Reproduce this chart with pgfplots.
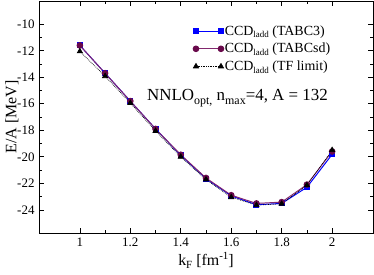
\documentclass[border=0pt]{standalone}
\usepackage{fontspec}
\setmainfont{Liberation Serif}
\usepackage{pgfplots}
\pgfplotsset{compat=1.18}
\definecolor{maroonc}{RGB}{105,10,75}
\definecolor{maroonl}{RGB}{130,40,110}
\newcommand{\mysub}[2][10]{\raisebox{-0.45ex}{\fontsize{#1}{#1}\selectfont #2}}
\newcommand{\mysup}[2][10]{\raisebox{0.75ex}{\fontsize{#1}{#1}\selectfont #2}}
\begin{document}
\fontsize{13}{15}\selectfont
\begin{tikzpicture}
\path[use as bounding box] (-39bp,-42bp) rectangle (335bp,233bp);
\begin{axis}[
  at={(0,0)}, anchor=south west,
  scale only axis, width=334bp, height=232bp,
  xmin=0.838, xmax=2.162, ymin=-25.75, ymax=-8.25,
  xtick={1,1.2,1.4,1.6,1.8,2}, ytick={-24,-22,-20,-18,-16,-14,-12,-10},
  xticklabels={1,1.2,1.4,1.6,1.8,2},
  minor x tick num=1, minor y tick num=1,
  tick align=inside, major tick length=5bp, minor tick length=3bp,
  tick style={black, line width=0.6pt},
  axis line style={line width=0.7pt},
  /pgf/number format/assume math mode=true,
  tick label style={font=\fontsize{13}{15}\selectfont},
  label style={font=\fontsize{16}{18}\selectfont},
  xlabel={k\mysub[11]{F} [fm\mysup[11]{-1}]},
  ylabel={E/A [MeV]},
  xlabel style={at={(axis description cs:0.5,0)}, anchor=base, yshift=-32bp},
  ylabel style={at={(axis description cs:0,0.5)}, anchor=center, yshift=27bp},
  legend style={draw=none, fill=none, at={(rel axis cs:0.461,0.90)}, anchor=north west,
    font=\fontsize{14}{16}\selectfont, row sep=4bp, inner sep=0pt,
    nodes={inner sep=1bp}},
  legend cell align=left,
  legend image code/.code={\draw[#1] plot coordinates {(0bp,0bp) (25bp,0bp)};},
]
\addplot[blue, line width=1pt, mark=square*, mark size=2.5bp, mark options={solid}] coordinates {
(1.0,-11.6) (1.1,-13.7) (1.2,-15.8) (1.3,-17.9) (1.4,-19.9) (1.5,-21.65) (1.6,-22.95) (1.7,-23.62) (1.8,-23.52) (1.9,-22.3) (2.0,-19.82)};
\addlegendentry{CCD\mysub[9]{ladd} (TABC3)}
\addplot[maroonl, line width=1pt, mark=*, mark size=2.8bp, mark options={solid, fill=maroonc, draw=maroonc}] coordinates {
(1.0,-11.6) (1.1,-13.7) (1.2,-15.8) (1.3,-17.9) (1.4,-19.85) (1.5,-21.6) (1.6,-22.9) (1.7,-23.52) (1.8,-23.42) (1.9,-22.1) (2.0,-19.6)};
\addlegendentry{CCD\mysub[9]{ladd} (TABCsd)}
\addplot[black, densely dotted, line width=0.7pt, mark=triangle*, mark size=3bp, mark options={solid}] coordinates {
(1.0,-12.05) (1.1,-13.92) (1.2,-15.95) (1.3,-18.05) (1.4,-20.0) (1.5,-21.72) (1.6,-23.05) (1.7,-23.65) (1.8,-23.55) (1.9,-22.15) (2.0,-19.5)};
\addlegendentry{CCD\mysub[9]{ladd} (TF limit)}
\node[font=\fontsize{17}{19}\selectfont, anchor=base west, inner sep=0pt] at (axis cs:1.266,-15.77) {NNLO\mysub[12]{opt,} n\mysub[12]{max}=4, A = 132};
\end{axis}
\end{tikzpicture}
\end{document}
